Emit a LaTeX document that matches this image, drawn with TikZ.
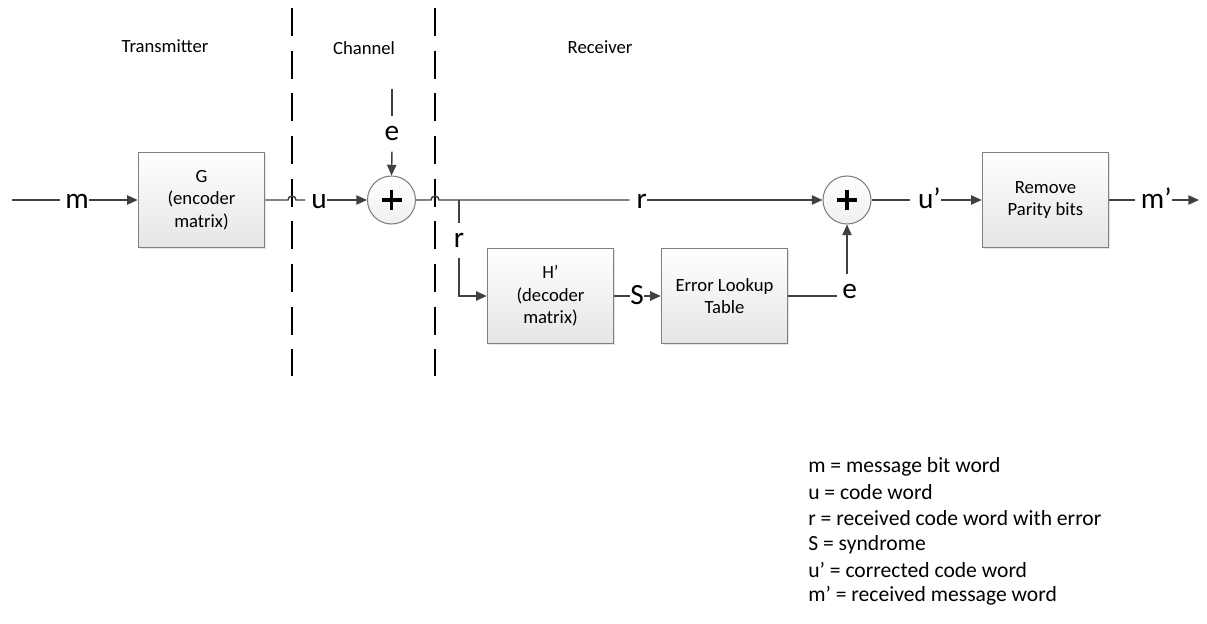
\documentclass[tikz,border=0pt]{standalone}
\usepackage{fontspec}
\setmainfont{Carlito}
\usetikzlibrary{arrows.meta,shadows,calc}
\definecolor{wire}{HTML}{404040}
\definecolor{frame}{HTML}{7F7F7F}
\tikzset{
  x=0.75pt, y=-0.75pt,
  wire/.style={draw=wire, line width=1.1pt},
  flow/.style={wire, -{Triangle[length=8pt,width=7pt]}},
  block/.style={draw=frame, line width=0.7pt, top color=white, bottom color=black!10,
    minimum width=95pt, minimum height=71pt, align=center, inner sep=2pt,
    font=\fontsize{14}{17}\selectfont,
    drop shadow={shadow xshift=1.2pt, shadow yshift=-1.2pt, opacity=0.25, fill=black!40}},
  summer/.style={circle, draw=frame, line width=0.8pt, top color=white, bottom color=black!6,
    minimum size=36pt, inner sep=0pt},
  % signal names sitting on a horizontal wire
  hsig/.style={anchor=east, inner sep=0pt, text height=13pt, text depth=0pt,
    font=\fontsize{22}{24}\selectfont},
  % signal names sitting on a vertical wire
  vsig/.style={inner sep=0pt, outer ysep=8pt, text height=10.3pt, text depth=0pt,
    font=\fontsize{22}{24}\selectfont},
  head/.style={font=\fontsize{14}{17}\selectfont},
  divider/.style={draw=black, line width=1.1pt, dash pattern=on 21pt off 11pt},
  legend/.style={anchor=west, inner sep=0pt, font=\fontsize{16.2}{18}\selectfont},
}
\newcommand{\plus}[1]{%
  \draw[line width=2.4pt, black] ($(#1)+(-10,0)$) -- ($(#1)+(10,0)$);
  \draw[line width=2.4pt, black] ($(#1)+(0,-10)$) -- ($(#1)+(0,10)$);}
\begin{document}
\begin{tikzpicture}
\useasboundingbox (0,0) rectangle (1207,624);

% section dividers and titles
\coordinate (d1t) at (292,8);  \coordinate (d1b) at (292,376);
\coordinate (d2t) at (435,8);  \coordinate (d2b) at (435,376);
\draw[divider] (d1t) -- (d1b);
\draw[divider] (d2t) -- (d2b);
\node[head] (tx) at (165,46) {Transmitter};
\node[head] (ch) at (364,48) {Channel};
\node[head] (rx) at (600,47) {Receiver};

% blocks
\node[block] (G) at (201.5,200) {G\\(encoder\\matrix)};
\node[block] (H) at (550.5,296) {H’\\(decoder\\matrix)};
\node[block] (E) at (724.5,296) {Error Lookup\\Table};
\node[block] (R) at (1045.5,200) {Remove\\Parity bits};
\node[summer] (c1) at (391.5,200) {};
\node[summer] (c2) at (847,200) {};
\plus{c1}
\plus{c2}

% free ends
\coordinate (in) at (12,200);
\coordinate (out) at (1199,200);
\coordinate (etop) at (392,89);
\coordinate (tap) at (459,200);

% signal names
\node[hsig] (m)  at (89,200)   {\kern3.75pt m};
\node[hsig] (u)  at (327,200)  {\kern4.5pt u};
\node[hsig] (r)  at (647,200)  {\kern5pt r};
\node[hsig] (S)  at (644,296)  {S};
\node[hsig] (u2) at (941,200)  {\kern6pt u’};
\node[hsig] (m2) at (1172,200) {\kern4pt m’};
\node[vsig] (e1) at (392,134)  {e};
\node[vsig] (r2) at (459,240.5) {r};
\node[vsig] (e2) at (847,292)  {\kern4pt e};

% transmitter side
\draw[wire] (in) -- (m.west);
\draw[flow] (m.east) -- (G.west);
\draw[wire] (G.east) -- (288,200) arc[start angle=180, end angle=360, radius=4]
  -- (u.west);
\draw[flow] (u.east) -- (c1.west);

% channel error input
\draw[wire] (etop) -- (e1.north);
\draw[flow] (e1.south) -- (c1.north);

% received word to the corrector
\draw[wire] (c1.east) -- (431,200) arc[start angle=180, end angle=360, radius=4]
  -- (r.west);
\draw[flow] (r.east) -- (c2.west);

% syndrome branch
\draw[wire] (tap) -- (r2.north);
\draw[flow] (r2.south) |- (H.west);
\draw[wire] (H.east) -- (S.west);
\draw[flow] (S.east) -- (E.west);
\draw[wire] (E.east) -- (E.east -| e2.west);
\draw[flow] (e2.north) -- (c2.south);

% corrected word and output
\draw[wire] (c2.east) -- (u2.west);
\draw[flow] (u2.east) -- (R.west);
\draw[wire] (R.east) -- (m2.west);
\draw[flow] (m2.east) -- (out);

% legend
\node[legend] (l1) at (808,467) {m = message bit word};
\node[legend] (l2) at (808,492.5) {u = code word};
\node[legend] (l3) at (808,518) {r = received code word with error};
\node[legend] (l4) at (808,544.5) {S = syndrome};
\node[legend] (l5) at (808,570) {u’ = corrected code word};
\node[legend] (l6) at (808,596) {m’ = received message word};
\end{tikzpicture}
\end{document}
